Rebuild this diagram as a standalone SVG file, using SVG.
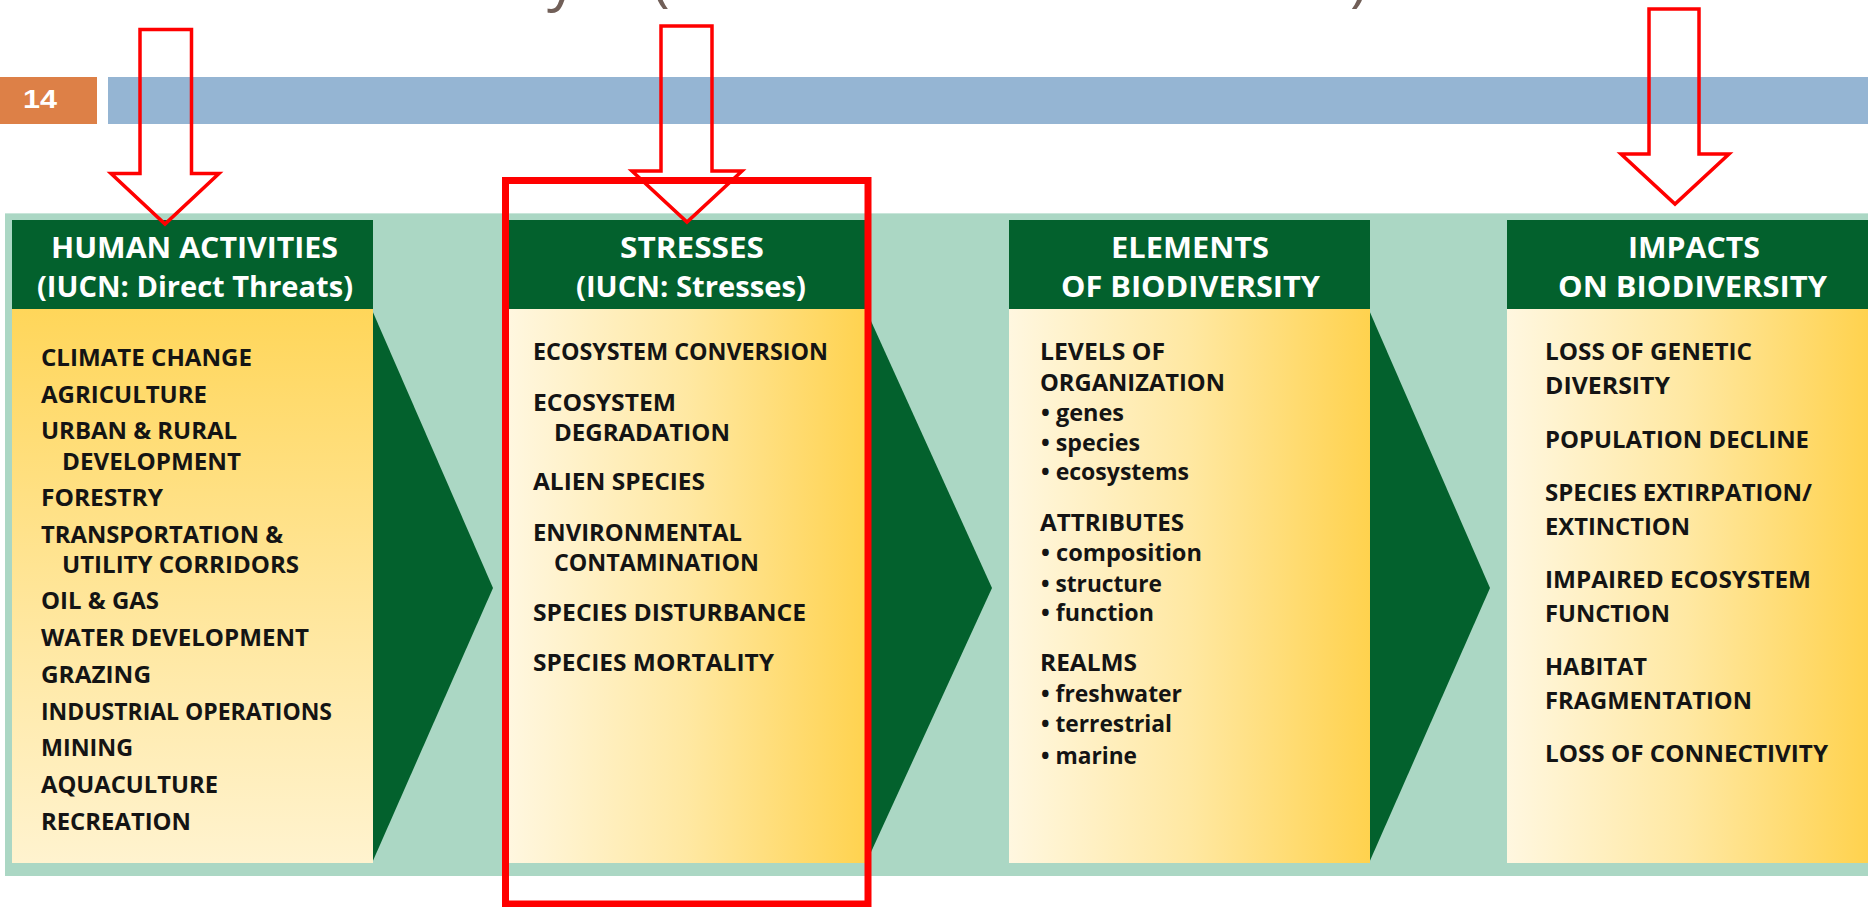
<svg xmlns="http://www.w3.org/2000/svg" width="1868" height="907" viewBox="0 0 1868 907">
  <defs>
    <linearGradient id="fillH" x1="0" y1="0" x2="1" y2="0">
      <stop offset="0" stop-color="#fff7e0"/>
      <stop offset="0.5" stop-color="#ffe8a2"/>
      <stop offset="1" stop-color="#ffd24e"/>
    </linearGradient>
    <linearGradient id="fillV" x1="0" y1="0" x2="0" y2="1">
      <stop offset="0" stop-color="#ffd65a"/>
      <stop offset="0.5" stop-color="#ffe597"/>
      <stop offset="1" stop-color="#fff3cf"/>
    </linearGradient>
    <style>
      .hdr { fill: #03612d; }
      .hdr-txt { font-family: "Open Sans", "Liberation Sans", sans-serif; font-weight: 700; font-size: 29px; fill: #ffffff; text-anchor: middle; }
      .item { font-family: "Open Sans", "Liberation Sans", sans-serif; font-weight: 700; font-size: 23px; fill: #141414; }
      .chev { fill: #03612d; }
      .mark { fill: none; stroke: #ff0000; stroke-width: 3.5; stroke-linejoin: miter; }
      .frame { fill: none; stroke: #ff0000; stroke-width: 7; }
      .title { font-family: "Open Sans", "Liberation Sans", sans-serif; font-size: 60px; fill: #715f58; }
    </style>
  </defs>

  <rect width="1868" height="907" fill="#ffffff"/>

  <!-- slide title, mostly above the page edge -->
  <g id="title">
    <text class="title" x="547" y="-1">y</text>
    <text class="title" x="652" y="-1">(</text>
    <text class="title" x="1350" y="-1">)</text>
  </g>

  <!-- slide number and header bar -->
  <g id="slide-header">
    <rect x="0" y="77" width="97" height="47" fill="#dd8047"/>
    <text x="23" y="108" font-family="Liberation Sans, Arial, sans-serif" font-weight="700" font-size="26" fill="#ffffff" textLength="34" lengthAdjust="spacingAndGlyphs">14</text>
    <rect x="108" y="77" width="1760" height="47" fill="#95b5d3"/>
  </g>

  <!-- teal panel behind the four columns -->
  <rect x="5" y="213" width="1863" height="663" fill="#abd7c4"/>
  <line x1="5" y1="213.5" x2="1868" y2="213.5" stroke="#c9e6da" stroke-width="1"/>

  <!-- flow chevrons between columns -->
  <g id="connectors">
    <polygon class="chev" points="372,310 493,588 372,863"/>
    <polygon class="chev" points="866,310 992,588 866,863"/>
    <polygon class="chev" points="1369,310 1490,588 1369,863"/>
  </g>

  <g id="human-activities">
    <rect x="12" y="309" width="361" height="554" fill="url(#fillV)"/>
    <rect class="hdr" x="12" y="220" width="361" height="89"/>
    <text class="hdr-txt" x="194.5" y="258" textLength="287" lengthAdjust="spacingAndGlyphs">HUMAN ACTIVITIES</text>
    <text class="hdr-txt" x="195" y="297" textLength="316" lengthAdjust="spacingAndGlyphs">(IUCN: Direct Threats)</text>
    <text class="item" x="41" y="366" textLength="211" lengthAdjust="spacingAndGlyphs">CLIMATE CHANGE</text>
    <text class="item" x="41" y="403" textLength="166" lengthAdjust="spacingAndGlyphs">AGRICULTURE</text>
    <text class="item" x="41" y="439" textLength="196" lengthAdjust="spacingAndGlyphs">URBAN &amp; RURAL</text>
    <text class="item" x="62" y="470" textLength="179" lengthAdjust="spacingAndGlyphs">DEVELOPMENT</text>
    <text class="item" x="41" y="506" textLength="122" lengthAdjust="spacingAndGlyphs">FORESTRY</text>
    <text class="item" x="41" y="543" textLength="242" lengthAdjust="spacingAndGlyphs">TRANSPORTATION &amp;</text>
    <text class="item" x="62" y="573" textLength="237" lengthAdjust="spacingAndGlyphs">UTILITY CORRIDORS</text>
    <text class="item" x="41" y="609" textLength="118" lengthAdjust="spacingAndGlyphs">OIL &amp; GAS</text>
    <text class="item" x="41" y="646" textLength="268" lengthAdjust="spacingAndGlyphs">WATER DEVELOPMENT</text>
    <text class="item" x="41" y="683" textLength="110" lengthAdjust="spacingAndGlyphs">GRAZING</text>
    <text class="item" x="41" y="720" textLength="291" lengthAdjust="spacingAndGlyphs">INDUSTRIAL OPERATIONS</text>
    <text class="item" x="41" y="756" textLength="92" lengthAdjust="spacingAndGlyphs">MINING</text>
    <text class="item" x="41" y="793" textLength="177" lengthAdjust="spacingAndGlyphs">AQUACULTURE</text>
    <text class="item" x="41" y="830" textLength="150" lengthAdjust="spacingAndGlyphs">RECREATION</text>
  </g>

  <g id="stresses">
    <rect x="508" y="309" width="360" height="554" fill="url(#fillH)"/>
    <rect class="hdr" x="508" y="220" width="360" height="89"/>
    <text class="hdr-txt" x="692" y="258" textLength="144" lengthAdjust="spacingAndGlyphs">STRESSES</text>
    <text class="hdr-txt" x="691" y="297" textLength="230" lengthAdjust="spacingAndGlyphs">(IUCN: Stresses)</text>
    <text class="item" x="533" y="360" textLength="295" lengthAdjust="spacingAndGlyphs">ECOSYSTEM CONVERSION</text>
    <text class="item" x="533" y="411" textLength="143" lengthAdjust="spacingAndGlyphs">ECOSYSTEM</text>
    <text class="item" x="554" y="441" textLength="176" lengthAdjust="spacingAndGlyphs">DEGRADATION</text>
    <text class="item" x="533" y="490" textLength="172" lengthAdjust="spacingAndGlyphs">ALIEN SPECIES</text>
    <text class="item" x="533" y="541" textLength="209" lengthAdjust="spacingAndGlyphs">ENVIRONMENTAL</text>
    <text class="item" x="554" y="571" textLength="205" lengthAdjust="spacingAndGlyphs">CONTAMINATION</text>
    <text class="item" x="533" y="621" textLength="273" lengthAdjust="spacingAndGlyphs">SPECIES DISTURBANCE</text>
    <text class="item" x="533" y="671" textLength="241" lengthAdjust="spacingAndGlyphs">SPECIES MORTALITY</text>
  </g>

  <g id="elements-of-biodiversity">
    <rect x="1009" y="309" width="361" height="554" fill="url(#fillH)"/>
    <rect class="hdr" x="1009" y="220" width="361" height="89"/>
    <text class="hdr-txt" x="1190" y="258" textLength="158" lengthAdjust="spacingAndGlyphs">ELEMENTS</text>
    <text class="hdr-txt" x="1190.5" y="297" textLength="259" lengthAdjust="spacingAndGlyphs">OF BIODIVERSITY</text>
    <text class="item" x="1040" y="360" textLength="125" lengthAdjust="spacingAndGlyphs">LEVELS OF</text>
    <text class="item" x="1040" y="391" textLength="185" lengthAdjust="spacingAndGlyphs">ORGANIZATION</text>
    <text class="item" x="1041" y="421" textLength="83" lengthAdjust="spacingAndGlyphs">• genes</text>
    <text class="item" x="1041" y="451" textLength="99" lengthAdjust="spacingAndGlyphs">• species</text>
    <text class="item" x="1041" y="480" textLength="148" lengthAdjust="spacingAndGlyphs">• ecosystems</text>
    <text class="item" x="1040" y="531" textLength="144" lengthAdjust="spacingAndGlyphs">ATTRIBUTES</text>
    <text class="item" x="1041" y="561" textLength="161" lengthAdjust="spacingAndGlyphs">• composition</text>
    <text class="item" x="1041" y="592" textLength="121" lengthAdjust="spacingAndGlyphs">• structure</text>
    <text class="item" x="1041" y="621" textLength="113" lengthAdjust="spacingAndGlyphs">• function</text>
    <text class="item" x="1040" y="671" textLength="97" lengthAdjust="spacingAndGlyphs">REALMS</text>
    <text class="item" x="1041" y="702" textLength="141" lengthAdjust="spacingAndGlyphs">• freshwater</text>
    <text class="item" x="1041" y="732" textLength="131" lengthAdjust="spacingAndGlyphs">• terrestrial</text>
    <text class="item" x="1041" y="764" textLength="96" lengthAdjust="spacingAndGlyphs">• marine</text>
  </g>

  <g id="impacts-on-biodiversity">
    <rect x="1507" y="309" width="361" height="554" fill="url(#fillH)"/>
    <rect class="hdr" x="1507" y="220" width="361" height="89"/>
    <text class="hdr-txt" x="1694" y="258" textLength="132" lengthAdjust="spacingAndGlyphs">IMPACTS</text>
    <text class="hdr-txt" x="1692.5" y="297" textLength="269" lengthAdjust="spacingAndGlyphs">ON BIODIVERSITY</text>
    <text class="item" x="1545" y="360" textLength="207" lengthAdjust="spacingAndGlyphs">LOSS OF GENETIC</text>
    <text class="item" x="1545" y="394" textLength="125" lengthAdjust="spacingAndGlyphs">DIVERSITY</text>
    <text class="item" x="1545" y="448" textLength="264" lengthAdjust="spacingAndGlyphs">POPULATION DECLINE</text>
    <text class="item" x="1545" y="501" textLength="267" lengthAdjust="spacingAndGlyphs">SPECIES EXTIRPATION/</text>
    <text class="item" x="1545" y="535" textLength="145" lengthAdjust="spacingAndGlyphs">EXTINCTION</text>
    <text class="item" x="1545" y="588" textLength="266" lengthAdjust="spacingAndGlyphs">IMPAIRED ECOSYSTEM</text>
    <text class="item" x="1545" y="622" textLength="125" lengthAdjust="spacingAndGlyphs">FUNCTION</text>
    <text class="item" x="1545" y="675" textLength="102" lengthAdjust="spacingAndGlyphs">HABITAT</text>
    <text class="item" x="1545" y="709" textLength="207" lengthAdjust="spacingAndGlyphs">FRAGMENTATION</text>
    <text class="item" x="1545" y="762" textLength="283" lengthAdjust="spacingAndGlyphs">LOSS OF CONNECTIVITY</text>
  </g>

  <!-- red highlight marks: outlined pointers and the frame round the second column -->
  <g id="highlights">
    <rect class="frame" x="505.5" y="180.5" width="362.5" height="723.5"/>
    <path class="mark" d="M140,29.5 H191.5 V173.5 H219 L165,224 L111,173.5 H140 Z"/>
    <path class="mark" d="M661,26 H712 V171 H742 L687,222 L632,171 H661 Z"/>
    <path class="mark" d="M1649,9 H1699 V154 H1729 L1675,204 L1621,154 H1649 Z"/>
  </g>
</svg>
